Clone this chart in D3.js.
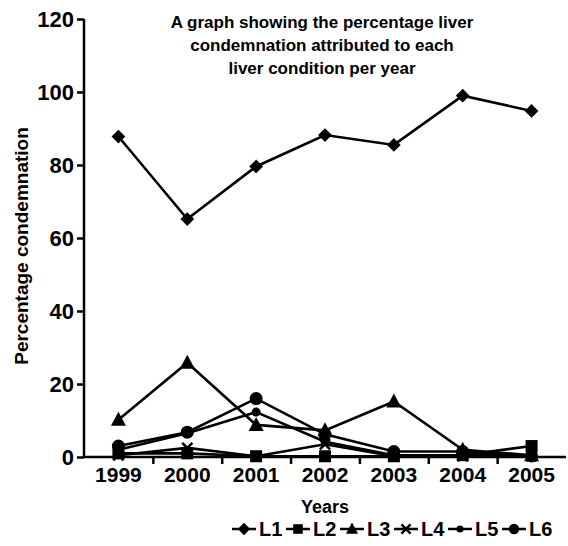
<!DOCTYPE html>
<html>
<head>
<meta charset="utf-8">
<script src="https://cdn.jsdelivr.net/npm/d3@7"></script>
<style>
  body { margin: 0; background: #fff; }
  svg text { font-family: "Liberation Sans", Arial, sans-serif; font-weight: bold; fill: #000; }
</style>
</head>
<body>
<svg id="chart"></svg>
<script>
const years = ["1999", "2000", "2001", "2002", "2003", "2004", "2005"];
const yTicks = [0, 20, 40, 60, 80, 100, 120];
const seriesNames = ["L1", "L2", "L3", "L4", "L5", "L6"];
const L1 = [87.8, 65.2, 79.6, 88.2, 85.5, 99.0, 94.8];
const L2 = [1.0, 1.0, 0.2, 0.2, 0.2, 0.5, 3.0];
const L3 = [10.2, 25.8, 8.8, 7.3, 15.2, 2.0, 0.5];
const L4 = [0.5, 2.5, 0.2, 3.5, 0.2, 0.2, 0.2];
const L5 = [2.0, 6.5, 12.3, 4.2, 0.5, 0.5, 0.5];
const L6 = [3.0, 6.8, 16.0, 6.2, 1.5, 1.5, 0.3];
const titleLines = [
  "A graph showing the percentage liver",
  "condemnation attributed to each",
  "liver condition per year",
];

const allSeries = [L1, L2, L3, L4, L5, L6];

const svgW = 568;
const svgH = 546;
const margin = { top: 19, bottom: 89, left: 84, right: 2 };

const svg = d3.select("#chart").attr("width", svgW).attr("height", svgH);

const x = d3
  .scaleBand()
  .domain(years)
  .range([margin.left, svgW - margin.right]);

const xIdx = d3
  .scaleLinear()
  .domain([0, years.length])
  .range([margin.left, svgW - margin.right]);

const y = d3
  .scaleLinear()
  .domain([0, 120])
  .range([svgH - margin.bottom, margin.top]);

// marker shapes
function marker(g, name, size) {
  const s = size || 1;
  if (name == "L1") {
    g.append("path").attr("d", d3.symbol(d3.symbolDiamond2, 120 * s)());
  } else if (name == "L2") {
    g.append("rect").attr("x", -6 * s).attr("y", -6 * s).attr("width", 12 * s).attr("height", 12 * s);
  } else if (name == "L3") {
    g.append("path").attr("d", "M0," + (-8 * s) + "L" + 7.5 * s + "," + 6 * s + "L" + -7.5 * s + "," + 6 * s + "Z");
  } else if (name == "L4") {
    g.append("path")
      .attr("d", d3.symbol(d3.symbolX, 70 * s)())
      .attr("fill", "none")
      .attr("stroke", "#000")
      .attr("stroke-width", 2.5);
  } else if (name == "L5") {
    g.append("circle").attr("r", 4.5 * s);
  } else {
    g.append("circle").attr("r", 6.5 * s);
  }
}

// lines
const line = d3
  .line()
  .x((d, i) => x(years[i]) + x.bandwidth() / 2)
  .y((d) => y(d));

const order = [5, 4, 3, 2, 1, 0];
order.forEach((k) => {
  svg
    .append("path")
    .attr("d", line(allSeries[k]))
    .attr("fill", "none")
    .attr("stroke", "#000")
    .attr("stroke-width", 2.6);
});
order.forEach((k) => {
  allSeries[k].forEach((v, i) => {
    const g = svg
      .append("g")
      .attr("fill", "#000")
      .attr("transform", `translate(${x(years[i]) + x.bandwidth() / 2},${y(v)})`);
    marker(g, seriesNames[k]);
  });
});

// axes
const yAxis = svg
  .append("g")
  .attr("transform", `translate(${margin.left},0)`)
  .call(d3.axisLeft(y).tickValues(yTicks).tickSize(7).tickPadding(3));
yAxis.select(".domain").attr("stroke-width", 2.5).attr("d", `M0,${margin.top}V${svgH - margin.bottom}`);
yAxis.selectAll(".tick line").attr("stroke-width", 2.5);
yAxis.selectAll("text").attr("font-size", "22px").attr("dy", "0.36em");

const xAxis = svg
  .append("g")
  .attr("transform", `translate(0,${svgH - margin.bottom})`)
  .call(d3.axisBottom(x).tickSize(0).tickPadding(10));
xAxis.select(".domain").remove();
xAxis.selectAll("text").attr("font-size", "21px");

const xTicks = svg
  .append("g")
  .attr("transform", `translate(0,${svgH - margin.bottom})`)
  .call(d3.axisBottom(xIdx).tickValues(d3.range(1, years.length)).tickSize(7).tickFormat(""));
xTicks.select(".domain").attr("stroke-width", 2.5).attr("d", `M${margin.left},0H${svgW - margin.right}`);
xTicks.selectAll(".tick line").attr("stroke-width", 2.5);

// axis titles
svg
  .append("text")
  .attr("x", 325)
  .attr("y", 513)
  .attr("text-anchor", "middle")
  .attr("font-size", "18px")
  .text("Years");

svg
  .append("text")
  .attr("transform", "translate(28,246) rotate(-90)")
  .attr("text-anchor", "middle")
  .attr("font-size", "19px")
  .text("Percentage condemnation");

// title
svg
  .append("g")
  .selectAll("text")
  .data(titleLines)
  .join("text")
  .attr("x", 322)
  .attr("y", (d, i) => 28 + i * 23)
  .attr("text-anchor", "middle")
  .attr("font-size", "17px")
  .text((d) => d);

// legend
const legend = svg
  .append("g")
  .attr("transform", "translate(232,536)")
  .selectAll("g")
  .data(seriesNames)
  .join("g")
  .attr("transform", (d, i) => `translate(${i * 54},0)`);
legend
  .append("line")
  .attr("x1", 0)
  .attr("x2", 24)
  .attr("y1", -7)
  .attr("y2", -7)
  .attr("stroke", "#000")
  .attr("stroke-width", 2.5);
legend.each(function (d) {
  const g = d3.select(this).append("g").attr("fill", "#000").attr("transform", "translate(12,-7)");
  marker(g, d, 0.8);
});
legend
  .append("text")
  .attr("x", 27)
  .attr("y", 0)
  .attr("font-size", "20px")
  .text((d) => d);
</script>
</body>
</html>
